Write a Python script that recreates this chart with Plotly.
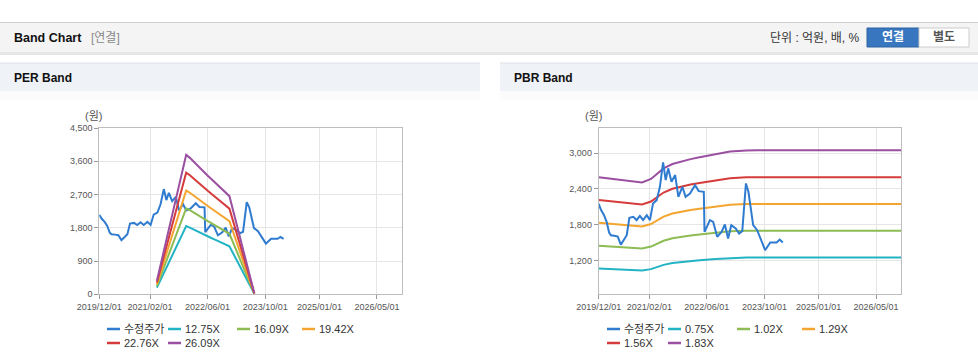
import plotly.graph_objects as go

# ---------------- data ----------------
price_name = "수정주가"
price_dates = ["2019-12-01","2019-12-20","2020-01-15","2020-02-06","2020-02-27","2020-03-13","2020-04-10",
               "2020-05-10","2020-06-05","2020-07-01","2020-07-25","2020-08-16","2020-09-19","2020-10-16",
               "2020-11-13","2020-12-10","2021-01-10","2021-02-06","2021-03-04","2021-04-04","2021-05-01",
               "2021-05-28","2021-06-19","2021-07-10","2021-08-07","2021-09-07","2021-10-04","2021-11-07",
               "2021-12-04","2022-01-10","2022-02-22","2022-03-25","2022-04-22","2022-05-07","2022-05-13",
               "2022-06-28","2022-07-25","2022-08-28","2022-10-04","2022-11-01","2022-11-28","2022-12-25",
               "2023-02-01","2023-03-01","2023-03-28","2023-04-28","2023-05-19","2023-06-28","2023-08-01",
               "2023-10-07","2023-11-19","2024-01-13","2024-02-07","2024-03-04"]
price_values = [2150,2050,1960,1848,1669,1623,1615,1600,1465,1560,1623,1915,1932,1876,1949,1876,1960,1876,
                2157,2213,2437,2847,2550,2747,2521,2634,2269,2437,2269,2325,2465,2364,2353,2353,1680,1876,
                1848,1596,1680,1803,1567,1792,1736,1652,1691,2493,2353,1792,1708,1371,1500,1500,1550,1500]

per_dates = ["2021-03-31","2021-12-03","2022-01-03","2022-02-03","2022-03-03","2022-04-03","2022-05-03",
             "2022-06-03","2022-07-03","2022-08-03","2022-09-03","2022-10-03","2022-11-03","2022-12-03",
             "2023-07-01"]
per_names = ["12.75X", "16.09X", "19.42X", "22.76X", "26.09X"]
per_12_75 = [179,1844,1804,1753,1709,1664,1619,1568,1524,1479,1428,1383,1345,1298,13]
per_16_09 = [225,2327,2277,2212,2156,2100,2043,1979,1923,1866,1802,1746,1697,1638,16]
per_19_42 = [272,2808,2748,2670,2602,2534,2466,2389,2321,2253,2175,2107,2049,1977,19]
per_22_76 = [319,3291,3221,3130,3050,2970,2891,2799,2720,2640,2549,2469,2401,2317,23]
per_26_09 = [365,3773,3692,3587,3496,3405,3313,3209,3118,3026,2922,2831,2752,2656,26]

pbr_dates = ["2019-12-01","2020-06-01","2020-12-01","2021-02-15","2021-06-01","2021-08-15","2021-11-15",
             "2022-01-15","2022-04-01","2022-08-15","2022-12-15","2023-05-01","2023-08-01","2026-11-28"]
pbr_names = ["0.75X", "1.02X", "1.29X", "1.56X", "1.83X"]
pbr_0_75 = [1064,1049,1029,1053,1125,1156,1179,1190,1202,1225,1241,1248,1250,1250]
pbr_1_02 = [1447,1426,1399,1432,1530,1572,1603,1618,1635,1666,1688,1697,1699,1699]
pbr_1_29 = [1831,1803,1770,1811,1935,1988,2028,2046,2068,2107,2135,2147,2149,2149]
pbr_1_56 = [2214,2181,2140,2190,2340,2404,2452,2474,2501,2547,2582,2596,2599,2599]
pbr_1_83 = [2597,2558,2511,2569,2745,2820,2877,2902,2933,2988,3029,3045,3049,3049]

x_tickvals = ["2019-12-01","2021-02-01","2022-06-01","2023-10-01","2025-01-01","2026-05-01"]
x_range = ["2019-12-01", "2026-11-28"]
per_yticks = [0, 900, 1800, 2700, 3600, 4500]
pbr_yticks = [1200, 1800, 2400, 3000]

# ---------------- style ----------------
W, H = 978, 362
price_color = "#2f7bd0"
band_colors = ["#22b4c4", "#8dbb54", "#f4a52f", "#d63b3b", "#9a4fa0"]
FONT = "Liberation Sans, Noto Sans CJK KR, sans-serif"

def px(x):
    return x / W

def py(y):
    return 1 - y / H

fig = go.Figure()

# PER traces
fig.add_trace(go.Scatter(x=price_dates, y=price_values, mode="lines", name=price_name,
                         line=dict(color=price_color, width=2), xaxis="x", yaxis="y"))
for nm, vals, c in zip(per_names, [per_12_75, per_16_09, per_19_42, per_22_76, per_26_09], band_colors):
    fig.add_trace(go.Scatter(x=per_dates, y=vals, mode="lines", name=nm,
                             line=dict(color=c, width=2), xaxis="x", yaxis="y"))
# PBR traces (bands first, price on top)
for nm, vals, c in zip(pbr_names, [pbr_0_75, pbr_1_02, pbr_1_29, pbr_1_56, pbr_1_83], band_colors):
    fig.add_trace(go.Scatter(x=pbr_dates, y=vals, mode="lines", name=nm,
                             line=dict(color=c, width=2), xaxis="x2", yaxis="y2"))
fig.add_trace(go.Scatter(x=price_dates, y=price_values, mode="lines", name=price_name,
                         line=dict(color=price_color, width=2), xaxis="x2", yaxis="y2"))

tickfont = dict(family=FONT, size=9, color="#555")
xax = dict(type="date", range=x_range, tickvals=x_tickvals, tickformat="%Y/%m/%d",
           showgrid=True, gridcolor="#e6e6e6", gridwidth=1, showline=True, linecolor="#bdbdbd",
           mirror=True, ticks="outside", ticklen=4, tickcolor="#999", tickfont=tickfont,
           zeroline=False, fixedrange=True, automargin=False)
yax = dict(showgrid=True, gridcolor="#e6e6e6", gridwidth=1, showline=True, linecolor="#bdbdbd",
           mirror=True, ticks="outside", ticklen=4, tickcolor="#999", tickfont=tickfont,
           tickformat=",", zeroline=False, fixedrange=True, automargin=False)

per_dom_x = [px(99.3), px(402)]
pbr_dom_x = [px(598.7), px(901)]
dom_y = [py(294.3), py(128)]

shapes = []
annotations = []

# top header bar
shapes.append(dict(type="rect", xref="paper", yref="paper", x0=0, x1=1, y0=py(52), y1=py(22),
                   fillcolor="#f4f4f4", line=dict(width=0), layer="below"))
shapes.append(dict(type="line", xref="paper", yref="paper", x0=0, x1=1, y0=py(22.5), y1=py(22.5),
                   line=dict(color="#cfcfcf", width=1)))
shapes.append(dict(type="rect", xref="paper", yref="paper", x0=0, x1=1, y0=py(55), y1=py(52),
                   fillcolor="#e6e6e6", line=dict(width=0), layer="below"))
annotations.append(dict(text="<b>Band Chart</b>", xref="paper", yref="paper", x=px(12), y=py(38),
                        xanchor="left", yanchor="middle", showarrow=False,
                        font=dict(family=FONT, size=12.5, color="#111")))
annotations.append(dict(text="[연결]", xref="paper", yref="paper", x=px(89), y=py(38),
                        xanchor="left", yanchor="middle", showarrow=False,
                        font=dict(family=FONT, size=12, color="#8a8a8a")))
annotations.append(dict(text="단위 : 억원, 배, %", xref="paper", yref="paper", x=px(862), y=py(38),
                        xanchor="right", yanchor="middle", showarrow=False,
                        font=dict(family=FONT, size=12, color="#333")))
# buttons
shapes.append(dict(type="rect", xref="paper", yref="paper", x0=px(867), x1=px(919), y0=py(47), y1=py(28),
                   fillcolor="#3877c0", line=dict(color="#2c62a3", width=1)))
shapes.append(dict(type="rect", xref="paper", yref="paper", x0=px(919), x1=px(969), y0=py(47), y1=py(28),
                   fillcolor="#ffffff", line=dict(color="#cccccc", width=1)))
annotations.append(dict(text="<b>연결</b>", xref="paper", yref="paper", x=px(893), y=py(37.5),
                        xanchor="center", yanchor="middle", showarrow=False,
                        font=dict(family=FONT, size=12, color="#ffffff")))
annotations.append(dict(text="<b>별도</b>", xref="paper", yref="paper", x=px(944), y=py(37.5),
                        xanchor="center", yanchor="middle", showarrow=False,
                        font=dict(family=FONT, size=12, color="#555")))

# panel headers
for x0, x1, title in [(0, 480, "PER Band"), (500, 978, "PBR Band")]:
    shapes.append(dict(type="rect", xref="paper", yref="paper", x0=px(x0), x1=px(x1), y0=py(91), y1=py(63),
                       fillcolor="#eff2f7", line=dict(width=0), layer="below"))
    shapes.append(dict(type="line", xref="paper", yref="paper", x0=px(x0), x1=px(x1), y0=py(63), y1=py(63),
                       line=dict(color="#dde1e8", width=1)))
    shapes.append(dict(type="rect", xref="paper", yref="paper", x0=px(x0), x1=px(x1), y0=py(100), y1=py(91),
                       fillcolor="#fbfbfb", line=dict(width=0), layer="below"))
    annotations.append(dict(text="<b>" + title + "</b>", xref="paper", yref="paper", x=px(x0 + 12), y=py(78),
                            xanchor="left", yanchor="middle", showarrow=False,
                            font=dict(family=FONT, size=12, color="#111")))

# unit labels
for xx in [93, 593]:
    annotations.append(dict(text="(원)", xref="paper", yref="paper", x=px(xx), y=py(116),
                            xanchor="center", yanchor="middle", showarrow=False,
                            font=dict(family=FONT, size=11, color="#555")))

# custom legends
legend_pos = [(107, 329), (168, 329), (237, 329), (302, 329), (107, 343), (168, 343)]
per_leg = [price_name] + per_names
pbr_leg = [price_name] + pbr_names
leg_colors = [price_color] + band_colors
for offset, names in [(0, per_leg), (500, pbr_leg)]:
    for (lx, ly), nm, c in zip(legend_pos, names, leg_colors):
        shapes.append(dict(type="line", xref="paper", yref="paper", x0=px(lx + offset), x1=px(lx + offset + 13),
                           y0=py(ly), y1=py(ly), line=dict(color=c, width=2.5)))
        annotations.append(dict(text=nm, xref="paper", yref="paper", x=px(lx + offset + 15), y=py(ly),
                                xanchor="left", yanchor="middle", showarrow=False,
                                font=dict(family=FONT, size=11, color="#333")))

fig.update_layout(
    width=W, height=H, margin=dict(l=0, r=0, t=0, b=0, pad=0, autoexpand=False),
    paper_bgcolor="#ffffff", plot_bgcolor="#ffffff", showlegend=False,
    xaxis=dict(xax, domain=per_dom_x, anchor="y"),
    yaxis=dict(yax, domain=dom_y, anchor="x", range=[0, 4500], tickvals=per_yticks),
    xaxis2=dict(xax, domain=pbr_dom_x, anchor="y2"),
    yaxis2=dict(yax, domain=dom_y, anchor="x2", range=[630, 3425], tickvals=pbr_yticks),
    shapes=shapes, annotations=annotations,
)

fig.write_html("out.html", config={"displayModeBar": False},
               post_script="document.body.style.margin='0';document.body.style.overflow='hidden';")
